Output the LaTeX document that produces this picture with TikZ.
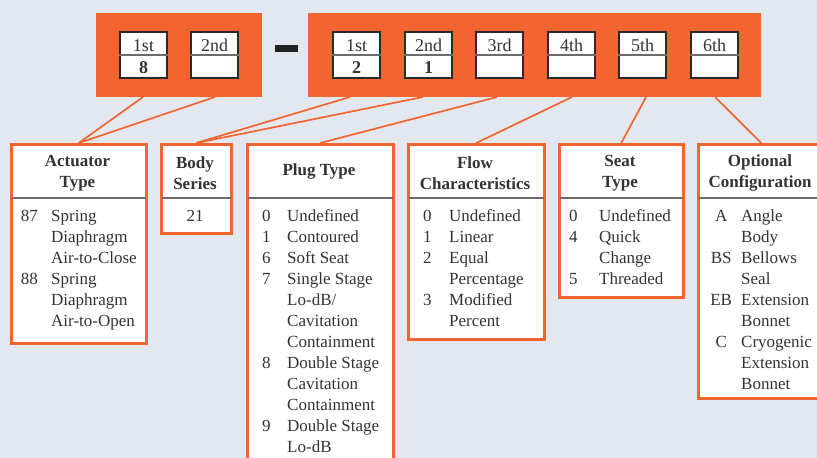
\documentclass[tikz,border=0pt]{standalone}
\usepackage{fontspec}
\setmainfont{Liberation Serif}
\definecolor{bg}{HTML}{E3E8F0}
\definecolor{org}{HTML}{F26430}
\definecolor{ink}{HTML}{333333}
\definecolor{rulec}{HTML}{6B6B6B}
\definecolor{dashc}{HTML}{222222}
\tikzset{
 obar/.style={fill=org, draw=none, inner sep=0pt, anchor=north west},
 cell/.style={draw=ink!80!black, line width=1.8pt, fill=white, minimum width=47pt, minimum height=46pt, inner sep=0pt},
 celldiv/.style={draw=rulec, line width=1.2pt},
 celltxt/.style={font=\fontsize{18}{21}\selectfont, text=ink, inner sep=0pt, anchor=base},
 cellnum/.style={font=\fontsize{18}{21}\selectfont\bfseries, text=ink, inner sep=0pt, anchor=base},
 obox/.style={draw=org, line width=2.5pt, fill=white, anchor=north west, inner sep=0pt},
 hdiv/.style={draw=rulec, line width=1.8pt},
 hdr/.style={font=\fontsize{17}{21}\selectfont\bfseries, text=ink, align=center, inner sep=0pt},
 lst/.style={font=\fontsize{17}{21}\selectfont, text=ink, inner sep=0pt, anchor=base west},
 conn/.style={draw=org, line width=1.7pt},
}
\begin{document}
\begin{tikzpicture}[x=1pt,y=-1pt]
\useasboundingbox (0,0) rectangle (817,458);
\clip (0,0) rectangle (817,458);
\fill[bg] (0,0) rectangle (817,458);

% connector start points on the bars' lower edges
\coordinate (s1) at (143,97);
\coordinate (s2) at (215,97);
\coordinate (s3) at (350,97);
\coordinate (s4) at (423,97);
\coordinate (s5) at (497,97);
\coordinate (s6) at (572,97);
\coordinate (s7) at (646,97);
\coordinate (s8) at (715,97);

% lower boxes
\node[obox, minimum width=135pt, minimum height=199pt] (act) at (10,143) {};
\node[obox, minimum width=70pt, minimum height=89pt] (body) at (160,143) {};
\node[obox, minimum width=146pt, minimum height=340pt] (plug) at (246,143) {};
\node[obox, minimum width=136pt, minimum height=195pt] (flow) at (407,143) {};
\node[obox, minimum width=124pt, minimum height=153pt] (seat) at (558,143) {};
\node[obox, minimum width=126pt, minimum height=254pt] (opt) at (697,143) {};

\foreach \b in {act,body,plug,flow,seat,opt}{
  \draw[hdiv] ([shift={(2,55)}]\b.north west) -- ([shift={(-2,55)}]\b.north east);
}

% connectors
\draw[conn] (s1) -- (act.north);
\draw[conn] (s2) -- (act.north);
\draw[conn] (s3) -- (body.north);
\draw[conn] (s4) -- (body.north);
\draw[conn] (s5) -- (plug.north);
\draw[conn] (s6) -- (flow.north);
\draw[conn] (s7) -- (seat.north);
\draw[conn] (s8) -- (opt.north);

% top bars
\node[obar, minimum width=166pt, minimum height=84pt] (lbar) at (96,13) {};
\node[obar, minimum width=453pt, minimum height=84pt] (rbar) at (308,13) {};
\node[fill=dashc, inner sep=0pt, minimum width=23pt, minimum height=7pt] (dash) at (286.5,48.5) {};

% cells
\foreach \n/\x/\t/\v in {l1/143.5/1st/8, l2/214.5/2nd/, r1/356.5/1st/2, r2/428.5/2nd/1, r3/499.5/3rd/, r4/571.5/4th/, r5/642.5/5th/, r6/714.5/6th/}{
  \node[cell] (\n) at (\x,55) {};
  \draw[celldiv] (\n.west) -- (\n.east);
  \node[celltxt] (\n t) at (\x,51) {\t};
  \node[cellnum] (\n v) at (\x,73) {\v};
}

% headers
\node[hdr] (acth) at (77.5,173) {Actuator\\Type};
\node[hdr] (bodyh) at (195,173) {Body\\Series};
\node[hdr] (plugh) at (319,171) {Plug Type};
\node[hdr] (flowh) at (475,173) {Flow\\Characteristics};
\node[hdr] (seath) at (620,173) {Seat\\Type};
\node[hdr] (opth) at (760,173) {Optional\\Configuration};

% lists
\node[lst] (actl) at (20.7,221) {\begin{tabular}[t]{@{}p{30.3pt}@{}l@{}}
87 & Spring\\ & Diaphragm\\ & Air-to-Close\\ 88 & Spring\\ & Diaphragm\\ & Air-to-Open
\end{tabular}};
\node[lst, anchor=base] (bodyl) at (195,221) {21};
\node[lst] (plugl) at (262,221) {\begin{tabular}[t]{@{}p{25pt}@{}l@{}}
0 & Undefined\\ 1 & Contoured\\ 6 & Soft Seat\\ 7 & Single Stage\\ & Lo-dB/\\ & Cavitation\\ & Containment\\ 8 & Double Stage\\ & Cavitation\\ & Containment\\ 9 & Double Stage\\ & Lo-dB
\end{tabular}};
\node[lst] (flowl) at (423,221) {\begin{tabular}[t]{@{}p{26pt}@{}l@{}}
0 & Undefined\\ 1 & Linear\\ 2 & Equal\\ & Percentage\\ 3 & Modified\\ & Percent
\end{tabular}};
\node[lst] (seatl) at (569,221) {\begin{tabular}[t]{@{}p{30pt}@{}l@{}}
0 & Undefined\\ 4 & Quick\\ & Change\\ 5 & Threaded
\end{tabular}};
\node[lst] (optl) at (701,221) {\begin{tabular}[t]{@{}l@{}l@{}}
\makebox[40pt]{A} & Angle\\ & Body\\ \makebox[40pt]{BS} & Bellows\\ & Seal\\ \makebox[40pt]{EB} & Extension\\ & Bonnet\\ \makebox[40pt]{C} & Cryogenic\\ & Extension\\ & Bonnet
\end{tabular}};
\end{tikzpicture}
\end{document}
